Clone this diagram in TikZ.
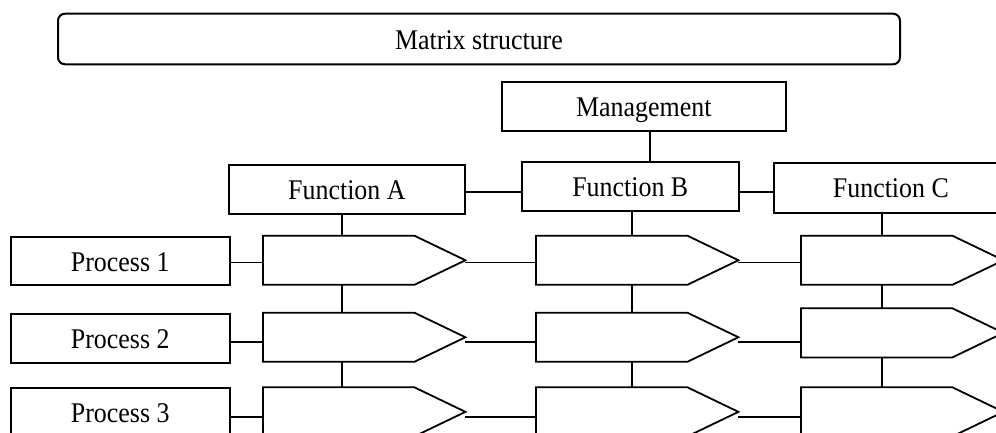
\documentclass[tikz,border=0pt]{standalone}
\usepackage{fontspec}
\setmainfont[FakeStretch=0.91]{Liberation Serif}
\usetikzlibrary{calc}
\begin{document}
\begin{tikzpicture}[x=1pt,y=-1pt,
  every node/.style={font=\fontsize{28.5}{30}\selectfont, inner sep=0pt,
    text height=24pt, text depth=4pt},
  sz/.style 2 args={minimum width=#1pt, minimum height=#2pt},
  box/.style={draw, line width=1.8pt, rectangle, anchor=north west},
  cell/.style={rectangle, anchor=north west, minimum width=202pt, minimum height=48.7pt},
  link/.style={line width=1.8pt},
  arrowcell/.style={line width=1.8pt, line join=miter}]
\clip (0,0) rectangle (996,432);
\fill[white] (0,0) rectangle (996,432);

% heading
\node[box, rounded corners=7pt, line width=2pt, sz={842}{50.6}] (title) at (57,12.7) {Matrix structure};

% management and functions
\node[box, sz={284.3}{49}] (mgmt) at (500.7,81) {Management};
\node[box, sz={236}{48.7}] (fa) at (228,164) {Function A};
\node[box, sz={217.3}{49}] (fb) at (520.7,161) {Function B};
\node[box, sz={234}{49.7}] (fc) at (773,162) {Function C};

% processes
\node[box, sz={218.7}{48.3}] (p1) at (10,236) {Process 1};
\node[box, sz={218.7}{49}] (p2) at (10,312.7) {Process 2};
\node[box, sz={218.7}{49}] (p3) at (10,387.3) {Process 3};

% matrix cells
\node[cell] (a1) at (263,235.7) {};
\node[cell] (b1) at (536,235.7) {};
\node[cell] (c1) at (801,235.7) {};
\node[cell] (a2) at (263,312.7) {};
\node[cell] (b2) at (536,312.7) {};
\node[cell] (c2) at (801,308.3) {};
\node[cell] (a3) at (263,387.3) {};
\node[cell] (b3) at (536,387.3) {};
\node[cell] (c3) at (801,387.3) {};

\foreach \c in {a1,b1,c1,a2,b2,c2,a3,b3,c3}
  \draw[arrowcell] (\c.north west) -- ([xshift=-51pt]\c.north east) -- (\c.east)
    -- ([xshift=-51pt]\c.south east) -- (\c.south west) -- cycle;

% management to function B
\coordinate (cm) at ([xshift=6pt]mgmt.south);
\draw[link] (cm) -- (cm |- fb.north);

% function row links
\coordinate (rf) at ([yshift=-2.65pt]fa.east);
\draw[link] (fa.east |- rf) -- (fb.west |- rf);
\draw[link] (fb.east |- rf) -- (fc.west |- rf);

% column links
\coordinate (ca) at ([xshift=-5pt]fa.south);
\coordinate (cb) at ([xshift=1.65pt]fb.south);
\coordinate (cc) at ([xshift=-9pt]fc.south);
\draw[link] (ca) -- (ca |- a1.north);
\draw[link] (ca |- a1.south) -- (ca |- a2.north);
\draw[link] (ca |- a2.south) -- (ca |- a3.north);
\draw[link] (cb) -- (cb |- b1.north);
\draw[link] (cb |- b1.south) -- (cb |- b2.north);
\draw[link] (cb |- b2.south) -- (cb |- b3.north);
\draw[link] (cc) -- (cc |- c1.north);
\draw[link] (cc |- c1.south) -- (cc |- c2.north);
\draw[link] (cc |- c2.south) -- (cc |- c3.north);

% row links
\coordinate (r1) at ([yshift=-1.5pt]p1.east);
\coordinate (r2) at ([yshift=-3.8pt]p2.east);
\coordinate (r3) at ([yshift=-3.9pt]p3.east);
\draw[link] (p1.east |- r1) -- (a1.west |- r1);
\draw[link] (a1.east |- r1) -- (b1.west |- r1);
\draw[link] (b1.east |- r1) -- (c1.west |- r1);
\draw[link] (p2.east |- r2) -- (a2.west |- r2);
\draw[link] (a2.east |- r2) -- (b2.west |- r2);
\draw[link] (b2.east |- r2) -- (c2.west |- r2);
\draw[link] (p3.east |- r3) -- (a3.west |- r3);
\draw[link] (a3.east |- r3) -- (b3.west |- r3);
\draw[link] (b3.east |- r3) -- (c3.west |- r3);
\end{tikzpicture}
\end{document}
